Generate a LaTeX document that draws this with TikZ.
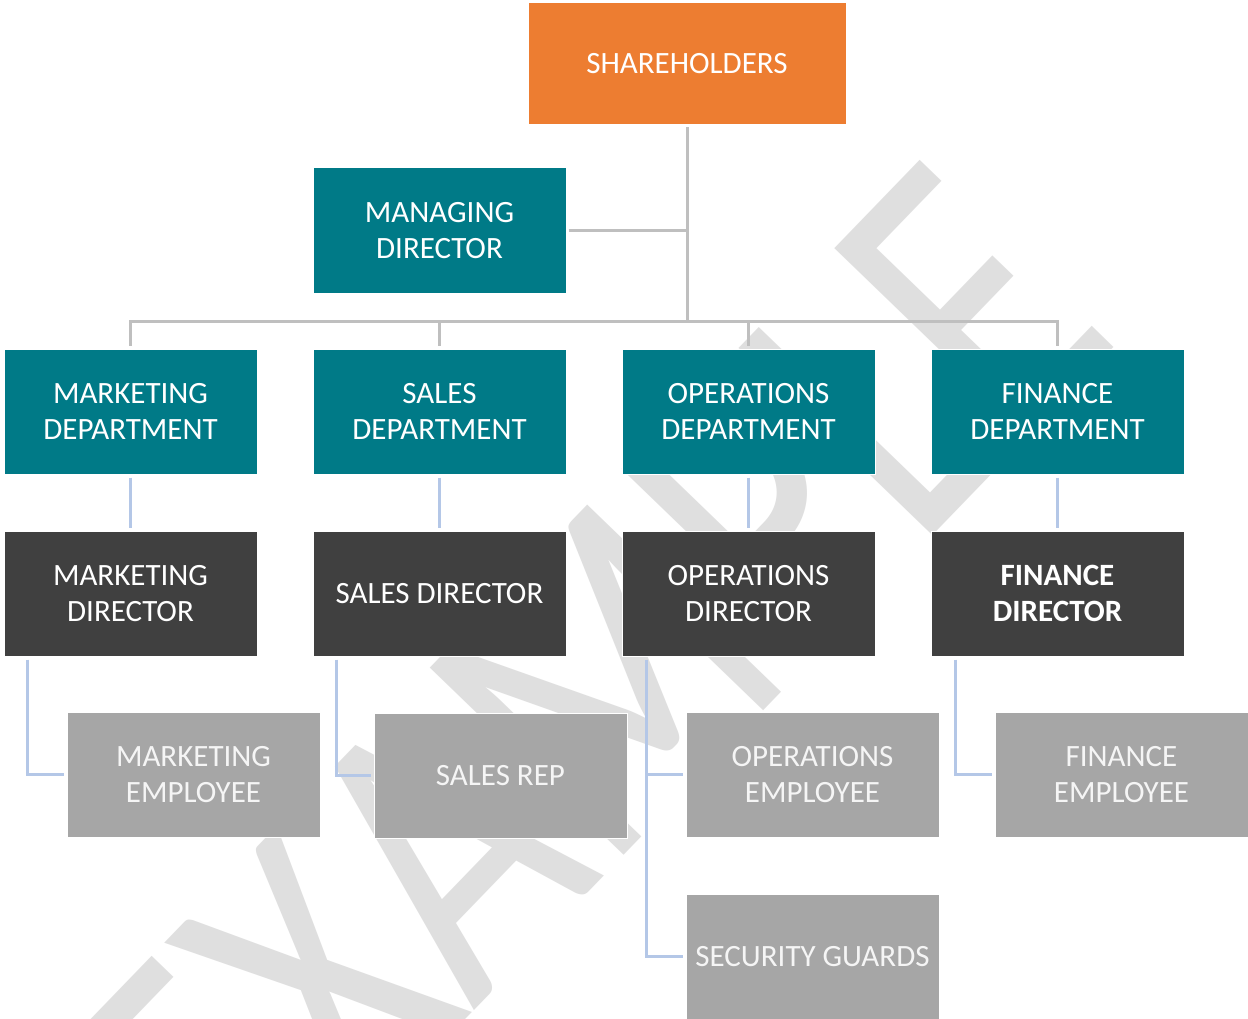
\documentclass[tikz,border=0pt]{standalone}
\usepackage{fontspec}
\setmainfont{Carlito}
\usetikzlibrary{calc}
\definecolor{orangeb}{RGB}{237,125,49}
\definecolor{tealb}{RGB}{0,122,135}
\definecolor{darkb}{RGB}{64,64,64}
\definecolor{grayb}{RGB}{166,166,166}
\definecolor{wmark}{RGB}{223,223,223}
\definecolor{lineg}{RGB}{191,191,191}
\definecolor{lineb}{RGB}{180,199,231}
\begin{document}
\begin{tikzpicture}[x=1pt,y=-1pt,
  box/.style={minimum width=253, minimum height=125, inner sep=0, align=center,
    text=white, font=\fontsize{31}{36}\selectfont, draw=white, line width=1},
  topbox/.style={box, fill=orangeb, minimum width=318, minimum height=122},
  deptbox/.style={box, fill=tealb},
  dirbox/.style={box, fill=darkb},
  empbox/.style={box, fill=grayb, text={rgb,255:red,245;green,245;blue,245}},
  gline/.style={draw=lineg, line width=3},
  bline/.style={draw=lineb, line width=2.5, shorten <=3, shorten >=3}]
\useasboundingbox (0,0) rectangle (1248,1019);
\clip (0,0) rectangle (1248,1019);
\fill[white] (0,0) rectangle (1248,1019);
% watermark
\node[anchor=base, rotate=46, text=wmark, inner sep=0] (wm) at (684,793)
  {\scalebox{0.78}[1]{\fontsize{420}{420}\selectfont EXAMPLE}};
% nodes
\node[topbox] (sh) at (687,64) {SHAREHOLDERS};
\node[deptbox] (md) at (439.5,230.5) {MANAGING\\DIRECTOR};
\node[deptbox] (mkd) at (130.5,411.5) {MARKETING\\DEPARTMENT};
\node[deptbox] (sld) at (439.5,411.5) {SALES\\DEPARTMENT};
\node[deptbox] (opd) at (748.5,411.5) {OPERATIONS\\DEPARTMENT};
\node[deptbox] (fnd) at (1057.5,411.5) {FINANCE\\DEPARTMENT};
\node[dirbox] (mkr) at (130.5,593.5) {MARKETING\\DIRECTOR};
\node[dirbox] (slr) at (439.5,593.5) {SALES DIRECTOR};
\node[dirbox] (opr) at (748.5,593.5) {OPERATIONS\\DIRECTOR};
\node[dirbox, font=\fontsize{31}{36}\selectfont\bfseries] (fnr) at (1057.5,593.5) {FINANCE\\DIRECTOR};
\node[empbox] (mke) at (193.5,774.5) {MARKETING\\EMPLOYEE};
\node[empbox] (sle) at (500.5,775.5) {SALES REP};
\node[empbox] (ope) at (812.5,774.5) {OPERATIONS\\EMPLOYEE};
\node[empbox] (fne) at (1121.5,774.5) {FINANCE\\EMPLOYEE};
\node[empbox] (sg) at (812.5,956.5) {SECURITY GUARDS};
% connectors
\coordinate (hub) at (687,321);
\draw[gline, shorten <=2] (sh.south) -- (hub);
\draw[gline, shorten <=2] (md.east) -- (md.east -| hub);
\draw[gline, shorten >=3] (hub) -| (mkd.north);
\draw[gline, shorten >=3] (hub) -| (sld.north);
\draw[gline, shorten >=3] (hub) -| (opd.north);
\draw[gline, shorten >=3] (hub) -| (fnd.north);
\draw[bline] (mkd) -- (mkr);
\draw[bline] (sld) -- (slr);
\draw[bline] (opd) -- (opr);
\draw[bline] (fnd) -- (fnr);
\draw[bline] ([xshift=24]mkr.south west) |- (mke.west);
\draw[bline] ([xshift=24]slr.south west) |- (sle.west);
\draw[bline] ([xshift=25]opr.south west) |- (ope.west);
\draw[bline] ([xshift=25]opr.south west) |- (sg.west);
\draw[bline] ([xshift=25]fnr.south west) |- (fne.west);
\end{tikzpicture}
\end{document}
